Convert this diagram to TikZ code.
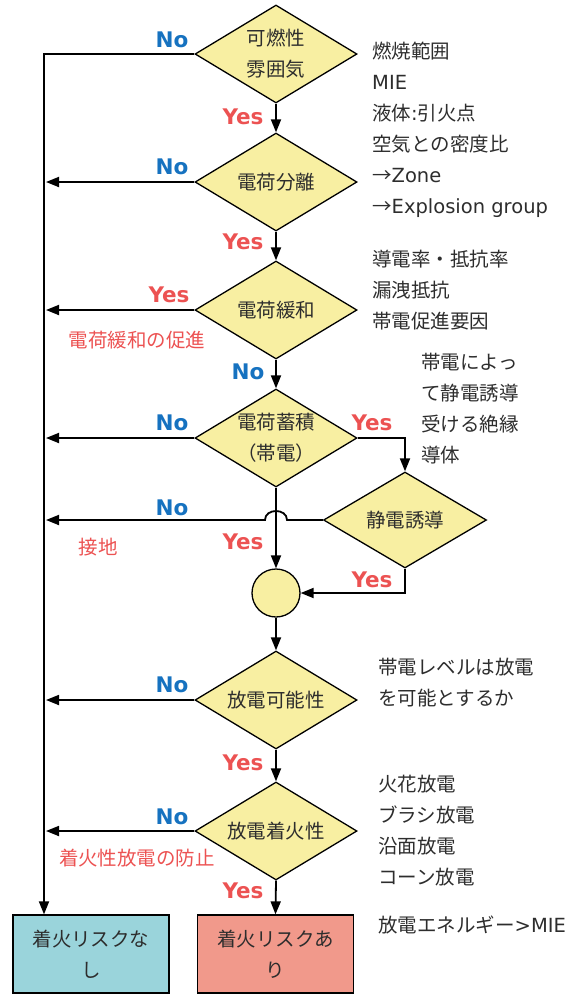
\documentclass[tikz,border=0pt]{standalone}
\usepackage{fontspec}
\setmainfont{Noto Sans CJK JP}
\newfontfamily\ynfont{DejaVu Sans}
\newcommand{\lat}[1]{{\ynfont #1}}
\usetikzlibrary{shapes.geometric,arrows.meta}
\definecolor{dfill}{RGB}{248,239,162}
\definecolor{tealfill}{RGB}{154,212,219}
\definecolor{salmonfill}{RGB}{241,153,139}
\definecolor{noblue}{RGB}{22,114,192}
\definecolor{yesred}{RGB}{236,82,82}
\definecolor{txt}{RGB}{45,45,45}
\newcommand{\jpfont}{\fontsize{19.5}{31}\selectfont}
\begin{document}
\begin{tikzpicture}[x=1pt,y=-1pt,
  dec/.style={diamond, draw=black, fill=dfill, line width=1.3pt, shape aspect=1.65,
    minimum width=162pt, minimum height=98pt, inner sep=0pt, font=\jpfont, text=txt, align=center},
  joinc/.style={circle, draw=black, fill=dfill, line width=1.3pt, minimum size=48pt, inner sep=0pt},
  resbox/.style={rectangle, draw=black, line width=1.3pt, minimum width=156pt, minimum height=78pt,
    inner sep=0pt, font=\jpfont, text=txt, align=center},
  note/.style={anchor=west, align=left, font=\jpfont, text=txt, inner sep=0pt},
  rednote/.style={font=\jpfont, text=yesred, inner sep=0pt},
  nolab/.style={font=\ynfont\bfseries\fontsize{21.5}{24}\selectfont, text=noblue, inner sep=0pt},
  yeslab/.style={font=\ynfont\bfseries\fontsize{21.5}{24}\selectfont, text=yesred, inner sep=0pt},
  conn/.style={draw=black, line width=1.8pt},
  arr/.style={conn, -{Triangle[length=13pt,width=10pt]}}
]
\useasboundingbox (0,0) rectangle (567,994);

% decision nodes
\node[dec] (d1) at (276,54) {可燃性\\雰囲気};
\node[dec] (d2) at (276,182) {電荷分離};
\node[dec] (d3) at (276,310) {電荷緩和};
\node[dec] (d4) at (276,438) {電荷蓄積\\（帯電）};
\node[dec, minimum width=163pt, minimum height=96pt] (d5) at (405,520) {静電誘導};
\node[joinc] (c) at (276,593) {};
\node[dec] (d6) at (276,700) {放電可能性};
\node[dec] (d7) at (276,831) {放電着火性};
\node[resbox, fill=tealfill] (bl) at (91,954) {着火リスクな\\し};
\node[resbox, fill=salmonfill] (br) at (275.5,954) {着火リスクあ\\り};

% notes
\node[note] (na) at (372,130) {燃焼範囲\\\lat{MIE}\\液体\lat{:}引火点\\空気との密度比\\→\lat{Zone}\\→\lat{Explosion group}};
\node[note] (nb) at (372,290) {導電率・抵抗率\\漏洩抵抗\\帯電促進要因};
\node[note] (nc) at (421,409) {帯電によっ\\て静電誘導\\受ける絶縁\\導体};
\node[note] (nd) at (378,682.5) {帯電レベルは放電\\を可能とするか};
\node[note] (ne) at (378,831) {火花放電\\ブラシ放電\\沿面放電\\コーン放電};
\node[note] (nf) at (378,925) {放電エネルギー\lat{>MIE}};

% red notes
\node[rednote] (r1) at (137,340) {電荷緩和の促進};
\node[rednote] (r2) at (98,547) {接地};
\node[rednote] (r3) at (137,858) {着火性放電の防止};

% yes / no labels
\node[nolab] (l1) at (172,40) {No};
\node[yeslab] (l2) at (243,117) {Yes};
\node[nolab] (l3) at (172,167) {No};
\node[yeslab] (l4) at (243,242) {Yes};
\node[yeslab] (l5) at (169,295) {Yes};
\node[nolab] (l6) at (248,372) {No};
\node[nolab] (l7) at (172,423) {No};
\node[yeslab] (l8) at (372,423) {Yes};
\node[nolab] (l9) at (172,508) {No};
\node[yeslab] (l10) at (243,542) {Yes};
\node[yeslab] (l11) at (372,580) {Yes};
\node[nolab] (l12) at (172,685) {No};
\node[yeslab] (l13) at (243,763) {Yes};
\node[nolab] (l14) at (172,817) {No};
\node[yeslab] (l15) at (243,891) {Yes};

% coordinates
\coordinate (tl) at (44,54);
\coordinate (lx) at (46,0);
\coordinate (hr) at (287,520);
\coordinate (hl) at (265,520);

% connectors
\draw[arr] (d1.west) -- (tl) -- (tl |- bl.north);
\draw[arr] (d1.south) -- (d2.north);
\draw[arr] (d2.west) -- (lx |- d2.west);
\draw[arr] (d2.south) -- (d3.north);
\draw[arr] (d3.west) -- (lx |- d3.west);
\draw[arr] (d3.south) -- (d4.north);
\draw[arr] (d4.west) -- (lx |- d4.west);
\draw[arr] (d4.east) -- (d5.north |- d4.east) -- (d5.north);
\draw[arr] (d5.west) -- (hr) .. controls (287,508) and (265,508) .. (hl) -- (lx |- d5.west);
\draw[arr] (d4.south) -- (c.north);
\draw[arr] (d5.south) -- (d5.south |- c.east) -- (c.east);
\draw[arr] (c.south) -- (d6.north);
\draw[arr] (d6.west) -- (lx |- d6.west);
\draw[arr] (d6.south) -- (d7.north);
\draw[arr] (d7.west) -- (lx |- d7.west);
\draw[arr] (d7.south) -- (br.north);
\end{tikzpicture}
\end{document}
